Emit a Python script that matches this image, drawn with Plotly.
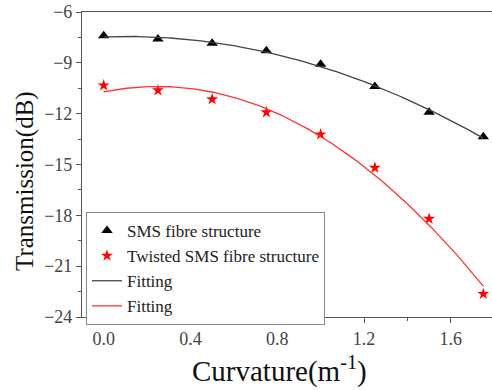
import numpy as np
import plotly.graph_objects as go

curvature = [0.0, 0.25, 0.5, 0.75, 1.0, 1.25, 1.5, 1.75]
sms = [-7.4, -7.6, -7.85, -8.28, -9.09, -10.4, -11.92, -13.36]
twisted = [-10.33, -10.62, -11.15, -11.92, -13.22, -15.19, -18.2, -22.64]

xf = np.linspace(0, 1.75, 200)
fit_sms = np.polyval(np.polyfit(curvature, sms, 2), xf)
fit_tw = np.polyval(np.polyfit(curvature, twisted, 2), xf)

font = "Liberation Serif, Times New Roman, serif"

fig = go.Figure()
fig.add_trace(go.Scatter(x=curvature, y=sms, mode="markers", name="SMS fibre structure",
                         cliponaxis=False,
                         marker=dict(symbol="triangle-up", size=10, color="black")))
fig.add_trace(go.Scatter(x=curvature, y=twisted, mode="markers", name="Twisted SMS fibre structure",
                         cliponaxis=False,
                         marker=dict(symbol="star", size=9, color="red")))
fig.add_trace(go.Scatter(x=xf, y=fit_sms, mode="lines", name="Fitting", cliponaxis=False,
                         line=dict(color="#444444", width=1.3)))
fig.add_trace(go.Scatter(x=xf, y=fit_tw, mode="lines", name="Fitting", cliponaxis=False,
                         line=dict(color="#ff3333", width=1.3)))

L, T, R, B = 82, 12, 492, 317
W_PLOT, H_PLOT = R - L, B - T

def px_x(x):
    return (x - L) / W_PLOT

def px_y(y):
    return (B - y) / H_PLOT

fig.update_layout(
    width=492, height=390,
    margin=dict(l=L, r=492 - R, t=T, b=390 - B),
    paper_bgcolor="white", plot_bgcolor="white",
    font=dict(family=font, color="#333333"),
    showlegend=True,
    legend=dict(x=px_x(86), y=px_y(212), xanchor="left", yanchor="top",
                bordercolor="#888888", borderwidth=1, bgcolor="white",
                font=dict(family=font, size=17, color="#222222"), tracegroupgap=0,
                itemwidth=30),
    annotations=[
        dict(text="Curvature(m<sup>-1</sup>)", x=px_x(279), y=px_y(369), xref="paper", yref="paper",
             xanchor="center", yanchor="middle",
             showarrow=False, font=dict(family=font, size=29, color="#111111")),
        dict(text="Transmission(dB)", x=px_x(25), y=px_y(181), xref="paper", yref="paper",
             xanchor="center", yanchor="middle",
             showarrow=False, textangle=-90, font=dict(family=font, size=25, color="#111111")),
    ],
)

fig.update_xaxes(range=[-0.1, 1.79], tickvals=[0.0, 0.4, 0.8, 1.2, 1.6],
                 ticktext=["0.0", "0.4", "0.8", "1.2", "1.6"],
                 ticks="outside", ticklen=5, tickcolor="#555555", automargin=False,
                 minor=dict(ticks="outside", ticklen=3, dtick=0.2, tick0=0, tickcolor="#555555"),
                 showline=True, linecolor="#555555", linewidth=1.2, mirror=True,
                 showgrid=False, zeroline=False,
                 tickfont=dict(family=font, size=18, color="#444444"))
fig.update_yaxes(range=[-24, -6], tickvals=[-6, -9, -12, -15, -18, -21, -24],
                 ticks="outside", ticklen=5, tickcolor="#555555", automargin=False,
                 minor=dict(ticks="outside", ticklen=3, dtick=1.5, tick0=-6, tickcolor="#555555"),
                 showline=True, linecolor="#555555", linewidth=1.2,
                 showgrid=False, zeroline=False,
                 tickfont=dict(family=font, size=18, color="#444444"))

fig.write_html("out.html", config={"displayModeBar": False},
               post_script="document.body.style.margin='0';document.body.style.overflow='hidden';")
